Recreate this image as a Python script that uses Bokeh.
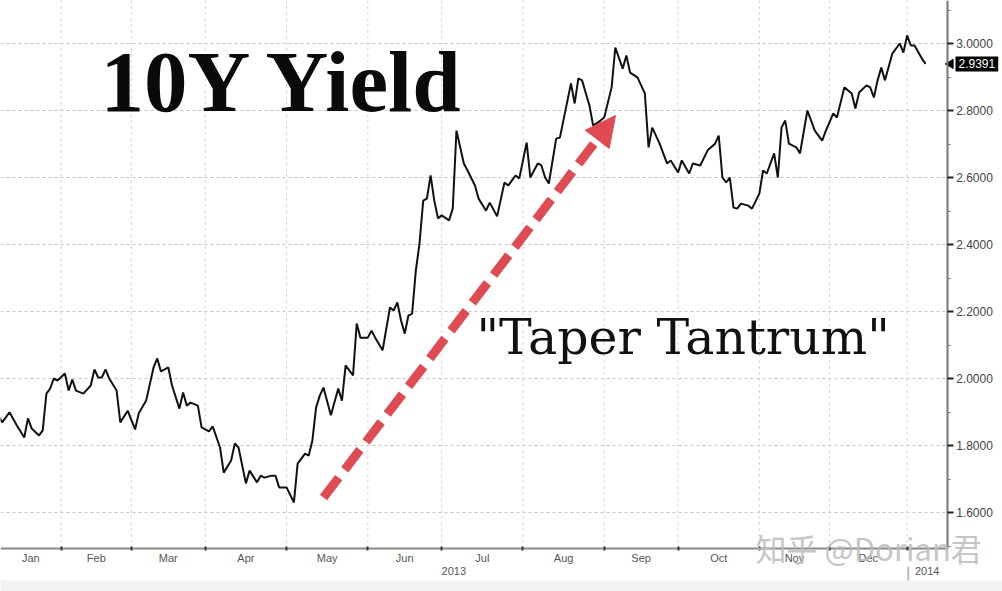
import numpy as np
from bokeh.plotting import figure
from bokeh.models import (Range1d, LinearAxis, FixedTicker, Grid, Label, Arrow,
                          NormalHead, ColumnDataSource)
from bokeh.embed import file_html
from bokeh.resources import INLINE

# ---------------- data ----------------
# US bond-market trading calendar used for the x positions (Bloomberg style)
ORIGIN = "2013-01-02"
HOLIDAYS = ["2013-01-21", "2013-02-18", "2013-03-29", "2013-05-27", "2013-07-04",
            "2013-09-02", "2013-10-14", "2013-11-11", "2013-11-28", "2013-12-25",
            "2014-01-01"]

# trading-session number counted from 2013-01-02
session = [4, 5, 7, 9, 11, 12, 13, 15, 16, 17, 18, 19, 20, 22, 23, 24, 25, 27, 29, 30,
           31, 32, 33, 34, 36, 37, 39, 41, 42, 44, 46, 47, 48, 50, 51, 53, 54, 55, 56, 58,
           59, 61, 62, 64, 65, 67, 68, 69, 71, 72, 74, 75, 76, 78, 79, 80, 82, 84, 85, 87,
           88, 89, 90, 91, 92, 94, 96, 97, 98, 100, 101, 102, 104, 105, 106, 108, 110, 111,
           112, 113, 114, 115, 116, 117, 118, 119, 120, 121, 122, 123, 124, 126, 127, 128,
           130, 131, 133, 134, 136, 137, 139, 141, 142, 144, 145, 147, 148, 150, 151, 152,
           153, 155, 156, 159, 160, 161, 162, 164, 165, 167, 168, 170, 171, 173, 174, 175,
           177, 179, 180, 181, 183, 185, 186, 188, 189, 191, 192, 194, 196, 198, 199, 200,
           201, 202, 203, 204, 205, 207, 208, 210, 211, 212, 214, 215, 216, 217, 218, 220,
           221, 223, 225, 227, 228, 230, 231, 233, 235, 236, 237, 239, 240, 241, 242, 243,
           244, 246, 248, 249, 250, 251, 252, 254, 255]

yield_pct = [1.890, 1.869, 1.899, 1.860, 1.824, 1.881, 1.851, 1.830, 1.845, 1.955,
             1.970, 2.000, 1.994, 2.015, 1.964, 1.997, 1.964, 1.955, 1.979, 2.027,
             2.003, 2.003, 2.027, 2.000, 1.964, 1.869, 1.904, 1.848, 1.896, 1.934,
             2.033, 2.060, 2.021, 2.033, 1.979, 1.910, 1.958, 1.919, 1.928, 1.919,
             1.854, 1.842, 1.857, 1.794, 1.719, 1.755, 1.806, 1.794, 1.687, 1.725,
             1.690, 1.710, 1.704, 1.710, 1.710, 1.675, 1.675, 1.630, 1.746, 1.776,
             1.770, 1.815, 1.913, 1.949, 1.973, 1.890, 1.970, 1.934, 2.039, 2.009,
             2.164, 2.122, 2.122, 2.143, 2.122, 2.084, 2.212, 2.203, 2.227, 2.173,
             2.134, 2.188, 2.194, 2.322, 2.403, 2.531, 2.537, 2.606, 2.531, 2.478,
             2.487, 2.472, 2.507, 2.740, 2.642, 2.621, 2.576, 2.537, 2.501, 2.525,
             2.484, 2.585, 2.576, 2.606, 2.597, 2.704, 2.600, 2.642, 2.636, 2.600,
             2.582, 2.716, 2.719, 2.881, 2.821, 2.896, 2.890, 2.815, 2.755, 2.770,
             2.779, 2.869, 2.988, 2.925, 2.964, 2.913, 2.899, 2.851, 2.690, 2.749,
             2.701, 2.642, 2.651, 2.615, 2.651, 2.612, 2.642, 2.636, 2.681, 2.701,
             2.725, 2.600, 2.585, 2.600, 2.510, 2.507, 2.522, 2.516, 2.507, 2.552,
             2.621, 2.612, 2.672, 2.600, 2.749, 2.770, 2.701, 2.690, 2.672, 2.800,
             2.740, 2.710, 2.740, 2.791, 2.779, 2.869, 2.851, 2.806, 2.854, 2.875,
             2.869, 2.839, 2.890, 2.928, 2.890, 2.970, 3.000, 2.973, 3.024, 2.994,
             2.994, 2.955, 2.939]

last_value = 2.9391
last_label = "2.9391"

month_names = ["Jan", "Feb", "Mar", "Apr", "May", "Jun", "Jul", "Aug", "Sep", "Oct",
               "Nov", "Dec"]
month_starts = ["2013-02-01", "2013-03-01", "2013-04-01", "2013-05-01", "2013-06-01",
                "2013-07-01", "2013-08-01", "2013-09-01", "2013-10-01", "2013-11-01",
                "2013-12-01", "2014-01-01"]
year_names = ["2013", "2014"]

y_ticks = [1.6, 1.8, 2.0, 2.2, 2.4, 2.6, 2.8, 3.0]
y_tick_labels = ["1.6000", "1.8000", "2.0000", "2.2000", "2.4000", "2.6000", "2.8000",
                 "3.0000"]
y_minor = [1.5, 1.7, 1.9, 2.1, 2.3, 2.5, 2.7, 2.9, 3.1]

title_text = "10Y Yield"
note_text = "\"Taper Tantrum\""
watermark_text = "知乎 @Dorian君"

# ---------------- layout helpers (canvas pixel -> data) ----------------
W, H = 1002, 591
PX_PER_SESSION = 3.694          # horizontal scale
PX_PER_UNIT = 335.0             # vertical scale (px per 1.00 of yield)
FEB_X, Y3_PX = 60.7, 43.0       # pixel of the Feb boundary / of the 3.00 grid line


def sx(px):
    return 21 + (px - FEB_X) / PX_PER_SESSION


def vy(py):
    return 3.0 - (py - Y3_PX) / PX_PER_UNIT


X_START, X_END = sx(0), sx(W)
Y_START, Y_END = vy(H), vy(0)
AXIS_X = sx(946.7)       # right value axis position
AXIS_Y = vy(548)         # bottom time axis position
RED = "#e04a52"
GRID = "#c6c6c6"

bounds = [int(b) for b in np.busday_count(ORIGIN, month_starts, holidays=HOLIDAYS)]
edges = [X_START] + bounds
month_mid = [(edges[i] + edges[i + 1]) / 2 for i in range(len(month_names))]
year_mid = [(X_START + bounds[-1]) / 2, (bounds[-1] + AXIS_X) / 2]

p = figure(width=W, height=H, x_range=Range1d(X_START, X_END),
           y_range=Range1d(Y_START, Y_END), x_axis_location=None, y_axis_location=None,
           toolbar_location=None, output_backend="svg", min_border=0)
p.outline_line_color = None
p.background_fill_color = "white"
p.border_fill_color = "white"
p.center = [r for r in p.center if not isinstance(r, Grid)]

# light grey strip at the very bottom of the screenshot
p.quad(left=[X_START], right=[X_END], bottom=[Y_START], top=[vy(580)],
       fill_color="#f2f2f2", line_color=None)

# grid lines (limited to the plotting area)
p.segment(x0=[X_START] * len(y_ticks), x1=[AXIS_X] * len(y_ticks), y0=y_ticks, y1=y_ticks,
          line_color=GRID, line_dash="3 3", line_width=1)
p.segment(x0=bounds, x1=bounds, y0=[AXIS_Y] * len(bounds), y1=[Y_END] * len(bounds),
          line_color=GRID, line_dash="2 4", line_width=1)

# right value axis
yaxis = LinearAxis(ticker=FixedTicker(ticks=y_ticks, minor_ticks=y_minor),
                   major_label_overrides={t: l for t, l in zip(y_ticks, y_tick_labels)},
                   fixed_location=AXIS_X, bounds=(AXIS_Y, Y_END))
yaxis.axis_line_color = "#777777"
yaxis.axis_line_width = 2
yaxis.major_tick_in = 0
yaxis.major_tick_out = 6
yaxis.major_tick_line_color = "#222222"
yaxis.major_tick_line_width = 2
yaxis.minor_tick_in = 0
yaxis.minor_tick_out = 3
yaxis.minor_tick_line_color = "#777777"
yaxis.major_label_standoff = 3
yaxis.major_label_text_font = "Liberation Sans"
yaxis.major_label_text_font_size = "12px"
yaxis.major_label_text_color = "#444444"
p.add_layout(yaxis, "right")

# bottom month axis (labels centred between month boundaries)
xaxis = LinearAxis(ticker=FixedTicker(ticks=month_mid, minor_ticks=bounds),
                   major_label_overrides={m: n for m, n in zip(month_mid, month_names)},
                   fixed_location=AXIS_Y, bounds=(X_START, AXIS_X))
xaxis.axis_line_color = "#888888"
xaxis.axis_line_width = 2
xaxis.major_tick_in = 0
xaxis.major_tick_out = 0
xaxis.minor_tick_in = 2
xaxis.minor_tick_out = 2
xaxis.minor_tick_line_color = "#333333"
xaxis.minor_tick_line_width = 2
xaxis.major_label_standoff = 1
xaxis.major_label_text_font = "Liberation Sans"
xaxis.major_label_text_font_size = "11px"
xaxis.major_label_text_color = "#555555"
p.add_layout(xaxis, "below")

# bottom year axis
yraxis = LinearAxis(ticker=FixedTicker(ticks=year_mid, minor_ticks=[]),
                    major_label_overrides={m: n for m, n in zip(year_mid, year_names)},
                    fixed_location=AXIS_Y, bounds=(X_START, AXIS_X))
yraxis.axis_line_color = None
yraxis.major_tick_in = 0
yraxis.major_tick_out = 0
yraxis.minor_tick_in = 0
yraxis.minor_tick_out = 0
yraxis.major_label_standoff = 18
yraxis.major_label_text_font = "Liberation Sans"
yraxis.major_label_text_font_size = "11px"
yraxis.major_label_text_color = "#555555"
p.add_layout(yraxis, "below")

# year separator
p.segment(x0=[bounds[-1] + 0.3], x1=[bounds[-1] + 0.3], y0=[vy(566)], y1=[vy(580)],
          line_color="#bbbbbb", line_width=2)

# yield line
src = ColumnDataSource(dict(x=session, y=yield_pct))
p.line("x", "y", source=src, line_color="#111111", line_width=2)

# red dashed arrow
ARROW_FROM = (sx(323), vy(497))
ARROW_TO = (sx(615), vy(115))
p.add_layout(Arrow(end=NormalHead(size=30, fill_color=RED, line_color=RED),
                   x_start=ARROW_FROM[0], y_start=ARROW_FROM[1],
                   x_end=ARROW_TO[0], y_end=ARROW_TO[1],
                   line_color=RED, line_width=9, line_dash="25 10"))

# texts (y positions calibrated against the rendered baseline)
p.add_layout(Label(x=sx(100), y=vy(81), text=title_text, text_font="Liberation Serif",
                   text_font_size="87px", text_font_style="bold", text_color="#0a0a0a",
                   text_baseline="alphabetic", text_align="left"))
p.add_layout(Label(x=sx(476), y=vy(337), text=note_text, text_font="DejaVu Serif",
                   text_font_size="49px", text_color="#111111",
                   text_baseline="alphabetic", text_align="left"))

# last value tag on the right axis
p.scatter(x=[sx(950)], y=[last_value], marker="triangle", angle=np.pi / 2, size=9,
          fill_color="black", line_color="black")
tag = Label(x=sx(955), y=last_value, text=last_label, text_font="Liberation Sans",
            text_font_size="12px", text_color="white", background_fill_color="black",
            text_baseline="middle", text_align="left")
if hasattr(tag, "padding"):
    tag.padding = 3
p.add_layout(tag)

# watermark
p.add_layout(Label(x=sx(755), y=vy(547), text=watermark_text, text_font="Noto Sans CJK SC",
                   text_font_size="31px", text_color="#bbbbbb", text_alpha=0.85,
                   text_baseline="middle", text_align="left"))

open("out.html", "w").write(file_html(p, INLINE))
